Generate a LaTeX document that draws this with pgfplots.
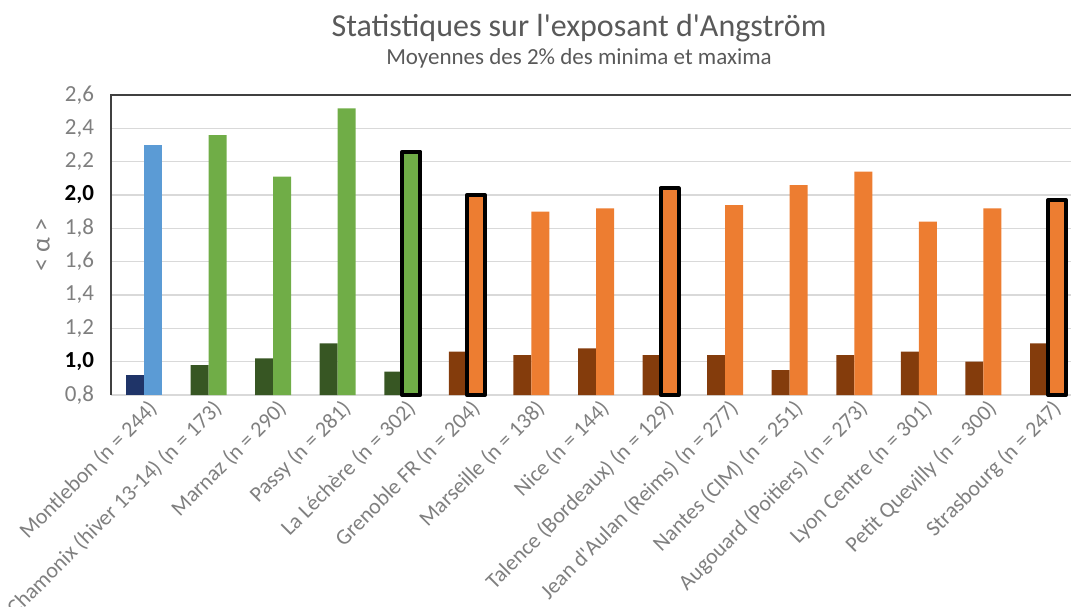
\documentclass[border=0pt]{standalone}
\usepackage{pgfplots}
\pgfplotsset{compat=1.18}
\usepackage{fontspec}
\setmainfont{Carlito}
\definecolor{navy}{HTML}{1F3468}
\definecolor{lblue}{HTML}{5B9BD5}
\definecolor{dgreen}{HTML}{375623}
\definecolor{lgreen}{HTML}{70AD47}
\definecolor{brown}{HTML}{843C0C}
\definecolor{orange}{HTML}{ED7D31}
\definecolor{gridgray}{HTML}{D9D9D9}
\definecolor{labgray}{HTML}{7F7F7F}
\definecolor{titlegray}{HTML}{595959}
\definecolor{framegray}{HTML}{404040}
\begin{document}
\begin{tikzpicture}
\begin{axis}[name=ax,
  width=480pt, height=150pt, scale only axis,
  xmin=-0.511, xmax=14.356, ymin=0, ymax=1.8,
  ybar, bar width=9pt,
  axis line style={draw=none},
  ytick={0,0.2,0.4,0.6,0.8,1,1.2,1.4,1.6,1.8},
  yticklabels={{0,8},{\color{black}\bfseries 1,0},{1,2},{1,4},{1,6},{1,8},{\color{black}\bfseries 2,0},{2,2},{2,4},{2,6}},
  ymajorgrids, grid style={draw=gridgray, line width=0.7pt},
  major tick length=0pt,
  xtick={0,1,2,3,4,5,6,7,8,9,10,11,12,13,14},
  xticklabels={{Montlebon (n = 244)},{Chamonix (hiver 13-14) (n = 173)},{Marnaz (n = 290)},{Passy (n = 281)},{La Léchère (n = 302)},{Grenoble FR (n = 204)},{Marseille (n = 138)},{Nice (n = 144)},{Talence (Bordeaux) (n = 129)},{Jean d\textquotesingle Aulan (Reims) (n = 277)},{Nantes (CIM) (n = 251)},{Augouard (Poitiers) (n = 273)},{Lyon Centre (n = 301)},{Petit Quevilly (n = 300)},{Strasbourg (n = 247)}},
  xticklabel style={rotate=45, anchor=north east, font=\fontsize{11}{13}\selectfont, text=labgray, inner sep=2pt, xshift=2pt},
  yticklabel style={font=\fontsize{11.5}{13}\selectfont, text=labgray, xshift=-5pt},
  y filter/.expression={y-0.8},
  clip=false,
]
% minima (dark)
\addplot[fill=navy, draw=none, bar shift=-4.5pt] coordinates {(0,0.92)};
\addplot[fill=dgreen, draw=none, bar shift=-4.5pt] coordinates {(1,0.98) (2,1.02) (3,1.11) (4,0.94)};
\addplot[fill=brown, draw=none, bar shift=-4.5pt] coordinates {(5,1.06) (6,1.04) (7,1.08) (8,1.04) (9,1.04) (10,0.95) (11,1.04) (12,1.06) (13,1.00) (14,1.11)};
% maxima (light)
\addplot[fill=lblue, draw=none, bar shift=4.5pt] coordinates {(0,2.30)};
\addplot[fill=lgreen, draw=none, bar shift=4.5pt] coordinates {(1,2.36) (2,2.11) (3,2.52) (4,2.26)};
\addplot[fill=orange, draw=none, bar shift=4.5pt] coordinates {(5,2.00) (6,1.90) (7,1.92) (8,2.04) (9,1.94) (10,2.06) (11,2.14) (12,1.84) (13,1.92) (14,1.97)};
% highlighted stations
\addplot[fill=none, draw=black, line width=2pt, line join=round, bar shift=4.5pt] coordinates {(4,2.26) (5,2.00) (8,2.04) (14,1.97)};
\end{axis}
\draw[framegray, line width=1pt] (ax.south west) -- (ax.north west) -- (ax.north east);
\node[rotate=90, text=labgray, font=\fontsize{13}{15}\selectfont] at ([xshift=-34pt]ax.west) {< α >};
\node[anchor=base, text=titlegray, font=\fontsize{16}{19}\selectfont] at ([xshift=234pt,yshift=29.5pt]ax.north west) {Statistiques sur l\textquotesingle exposant d\textquotesingle Angström};
\node[anchor=base, text=titlegray, font=\fontsize{11.5}{13}\selectfont] at ([xshift=234pt,yshift=15.5pt]ax.north west) {Moyennes des 2\% des minima et maxima};
\pgfresetboundingbox
\path[use as bounding box] ([xshift=-55.5pt,yshift=-105.5pt]ax.south west) rectangle ([yshift=47.5pt]ax.north east);
\end{tikzpicture}
\end{document}
